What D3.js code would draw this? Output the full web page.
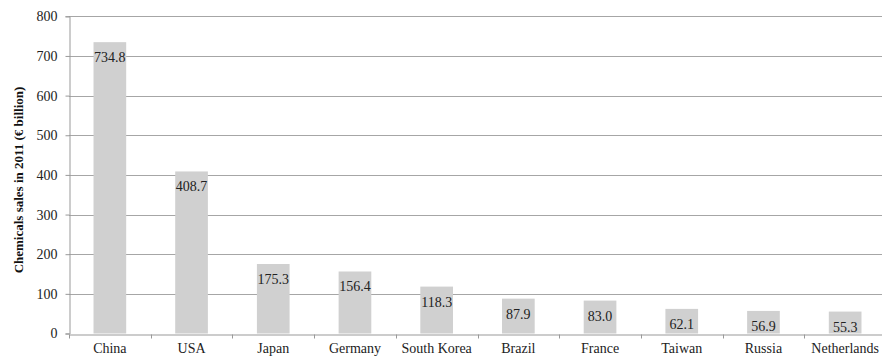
<!DOCTYPE html>
<html lang="en">
<head>
<meta charset="UTF-8">
<title>Chemicals sales in 2011</title>
<script src="https://d3js.org/d3.v7.min.js"></script>
<style>
  body { margin: 0; background: #fff; }
  svg text { font-family: "Liberation Serif", "Times New Roman", "DejaVu Serif", serif; }
</style>
</head>
<body>
<div id="chart"></div>
<script>
const countries = ["China", "USA", "Japan", "Germany", "South Korea", "Brazil", "France", "Taiwan", "Russia", "Netherlands"];
const sales = [734.8, 408.7, 175.3, 156.4, 118.3, 87.9, 83.0, 62.1, 56.9, 55.3];
const yTicks = [0, 100, 200, 300, 400, 500, 600, 700, 800];
const yTitle = "Chemicals sales in 2011 (\u20ac billion)";

const width = 882, height = 356;
const m = { left: 69, right: 886, top: 16.3, bottom: 333.5 };
const serif = '"Liberation Serif", "Times New Roman", serif';

const svg = d3.select("#chart").append("svg")
  .attr("width", width)
  .attr("height", height);

const x = d3.scaleBand().domain(countries).range([m.left, m.right]).paddingInner(0.6).paddingOuter(0.3);
const xAxisScale = d3.scaleBand().domain(countries).range([m.left, m.right]);
const y = d3.scaleLinear().domain([0, 800]).range([m.bottom, m.top]);

// gridlines
svg.append("g")
  .selectAll("line")
  .data(yTicks.filter(d => d > 0))
  .join("line")
  .attr("x1", m.left).attr("x2", width)
  .attr("y1", d => Math.round(y(d)) + 0.5).attr("y2", d => Math.round(y(d)) + 0.5)
  .attr("stroke", "#a6a6a6")
  .attr("stroke-width", 1);

// bars
svg.append("g")
  .selectAll("rect")
  .data(countries)
  .join("rect")
  .attr("x", d => x(d))
  .attr("width", x.bandwidth())
  .attr("y", (d, i) => y(sales[i]))
  .attr("height", (d, i) => m.bottom - y(sales[i]))
  .attr("fill", "#d0d0d0");

// value labels
svg.append("g")
  .selectAll("text")
  .data(countries)
  .join("text")
  .attr("x", d => x(d) + x.bandwidth() / 2)
  .attr("y", (d, i) => y(sales[i]) + 20)
  .attr("text-anchor", "middle")
  .style("font-family", serif)
  .style("font-size", "14px")
  .attr("fill", "#222")
  .text((d, i) => sales[i].toFixed(1));

// y axis
const yAxis = svg.append("g")
  .attr("transform", `translate(${m.left + 0.5},0)`)
  .call(d3.axisLeft(y).tickValues(yTicks).tickSize(4).tickPadding(8));
yAxis.select(".domain").attr("stroke", "#999");
yAxis.selectAll(".tick line").attr("stroke", "#999");
yAxis.selectAll(".tick text")
  .style("font-family", serif).style("font-size", "14px").attr("fill", "#222");

// x axis
const xAxis = svg.append("g")
  .attr("transform", `translate(0,${Math.round(m.bottom) + 0.5})`)
  .call(d3.axisBottom(xAxisScale).tickSize(0).tickPadding(9));
xAxis.select(".domain").attr("stroke", "#999");
xAxis.selectAll(".tick text")
  .style("font-family", serif).style("font-size", "14px").attr("fill", "#222");
xAxis.selectAll(".sep")
  .data(countries)
  .join("line")
  .attr("class", "sep")
  .attr("x1", d => Math.round(xAxisScale(d)) + 0.5)
  .attr("x2", d => Math.round(xAxisScale(d)) + 0.5)
  .attr("y1", 0).attr("y2", 4)
  .attr("stroke", "#999");

// y title
svg.append("text")
  .attr("transform", `translate(23,180) rotate(-90)`)
  .attr("text-anchor", "middle")
  .style("font-family", serif)
  .style("font-size", "13px")
  .style("font-weight", "bold")
  .attr("fill", "#111")
  .text(yTitle);
</script>
</body>
</html>
